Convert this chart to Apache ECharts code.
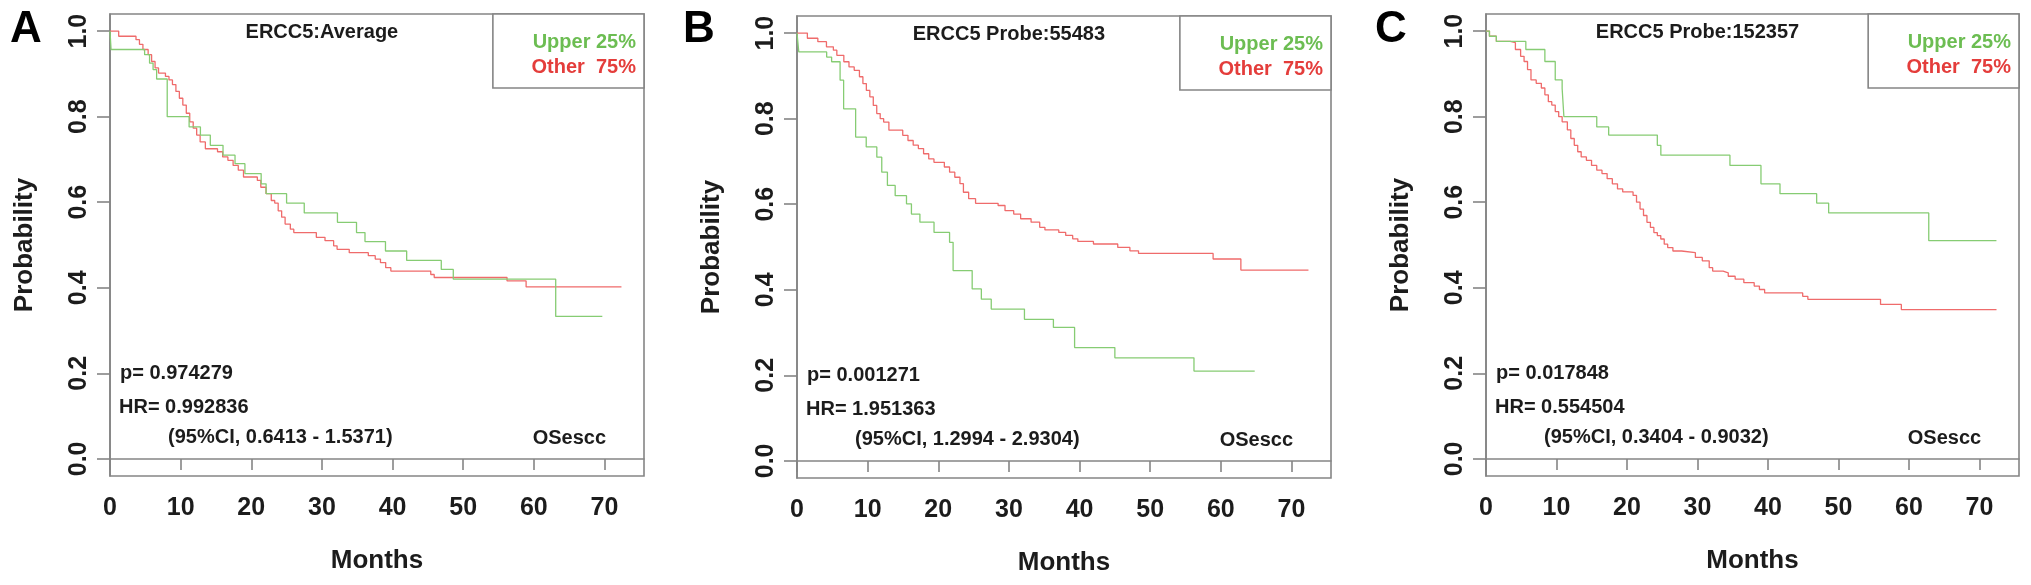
<!DOCTYPE html>
<html>
<head>
<meta charset="utf-8">
<script src="https://cdn.jsdelivr.net/npm/echarts@6/dist/echarts.min.js"></script>
<style>
html,body{margin:0;padding:0;background:#fff;}
#chart{width:2031px;height:585px;}
</style>
</head>
<body>
<div id="chart"></div>
<script>
// ---------- data ----------
const monthTicks = [0, 10, 20, 30, 40, 50, 60, 70];
const probTicks = [0, 0.2, 0.4, 0.6, 0.8, 1.0];
const panelLetters = ['A', 'B', 'C'];
const titles = ['ERCC5:Average', 'ERCC5 Probe:55483', 'ERCC5 Probe:152357'];
const pValues = ['0.974279', '0.001271', '0.017848'];
const hrValues = ['0.992836', '1.951363', '0.554504'];
const ciValues = ['0.6413 - 1.5371', '1.2994 - 2.9304', '0.3404 - 0.9032'];
const groupNames = ['Upper 25%', 'Other  75%'];
const cohortLabel = 'OSescc';

const upperA = [[0,1],[0.15,0.957],[4.9,0.945],[5.6,0.925],[6.1,0.910],[6.6,0.888],[8.1,0.800],[11.2,0.776],[12.8,0.757],[14.2,0.733],[16.0,0.710],[17.7,0.690],[19.1,0.667],[21.4,0.643],[22.1,0.620],[25.0,0.598],[27.5,0.575],[32.2,0.553],[34.9,0.529],[36.1,0.508],[39.0,0.486],[42.0,0.464],[46.9,0.443],[48.6,0.420],[63.1,0.333],[69.7,0.333]];
const otherA = [[0,1],[1.23,0.988],[3.68,0.980],[4.17,0.969],[4.66,0.957],[5.40,0.945],[5.89,0.929],[6.38,0.914],[6.87,0.902],[7.85,0.894],[8.35,0.886],[8.84,0.875],[9.33,0.859],[9.82,0.843],[10.31,0.827],[10.80,0.808],[11.29,0.788],[11.78,0.773],[12.27,0.757],[12.76,0.741],[13.50,0.725],[15.22,0.718],[15.95,0.706],[16.69,0.698],[17.43,0.686],[18.16,0.675],[18.90,0.659],[20.86,0.651],[21.35,0.635],[22.09,0.620],[22.83,0.604],[23.32,0.598],[23.81,0.580],[24.30,0.565],[24.79,0.549],[25.53,0.537],[26.02,0.529],[29.21,0.518],[30.44,0.510],[31.66,0.498],[32.15,0.490],[33.87,0.482],[36.57,0.475],[37.55,0.467],[38.29,0.459],[39.03,0.447],[39.76,0.439],[45.41,0.431],[45.90,0.424],[56.21,0.416],[58.91,0.402],[72.41,0.402]];

const upperB = [[0,1],[0.25,0.956],[4.2,0.944],[4.9,0.933],[6.1,0.890],[6.6,0.823],[8.3,0.757],[9.8,0.734],[11.3,0.710],[12.0,0.675],[12.8,0.644],[13.9,0.620],[15.5,0.601],[16.2,0.577],[17.4,0.558],[19.4,0.534],[21.6,0.511],[22.1,0.445],[24.8,0.402],[26.1,0.378],[27.5,0.355],[32.2,0.331],[36.3,0.312],[39.3,0.265],[45.0,0.241],[56.2,0.210],[64.8,0.210]];
const otherB = [[0,1],[1.47,0.988],[2.95,0.980],[4.17,0.968],[5.15,0.960],[5.64,0.948],[6.63,0.933],[7.36,0.921],[8.10,0.913],[8.84,0.898],[9.33,0.882],[9.82,0.866],[10.31,0.851],[10.80,0.831],[11.29,0.812],[11.78,0.800],[12.27,0.792],[13.01,0.773],[14.97,0.761],[15.71,0.749],[16.45,0.738],[17.18,0.730],[17.92,0.718],[18.65,0.706],[19.39,0.698],[20.86,0.687],[21.60,0.675],[22.34,0.663],[23.07,0.648],[23.56,0.628],[24.30,0.613],[25.28,0.602],[28.47,0.597],[29.45,0.585],[30.68,0.577],[31.66,0.566],[33.14,0.558],[34.36,0.546],[35.10,0.540],[37.06,0.534],[38.04,0.527],[39.03,0.519],[39.76,0.513],[41.97,0.507],[45.41,0.499],[47.13,0.491],[48.35,0.485],[58.91,0.472],[62.84,0.446],[72.41,0.446]];

const upperC = [[0,1],[0.49,0.988],[1.47,0.976],[5.65,0.957],[8.35,0.929],[9.82,0.886],[10.80,0.866],[11.05,0.800],[15.71,0.776],[17.4,0.757],[24.3,0.733],[24.8,0.710],[34.6,0.686],[39.0,0.643],[41.7,0.620],[46.9,0.598],[48.6,0.575],[62.8,0.510],[72.4,0.510]];
const otherC = [[0,1],[0.49,0.988],[1.47,0.976],[3.44,0.973],[4.17,0.957],[4.91,0.941],[5.40,0.929],[5.89,0.910],[6.38,0.886],[7.12,0.878],[7.85,0.867],[8.35,0.851],[8.84,0.835],[9.33,0.827],[9.82,0.812],[10.31,0.800],[10.80,0.788],[11.54,0.769],[12.03,0.749],[12.52,0.733],[13.01,0.718],[13.50,0.706],[14.24,0.698],[14.97,0.686],[15.71,0.675],[16.45,0.667],[17.18,0.655],[17.92,0.643],[18.65,0.631],[19.39,0.624],[20.86,0.616],[21.35,0.600],[21.85,0.584],[22.34,0.569],[22.83,0.553],[23.32,0.541],[23.81,0.529],[24.30,0.522],[24.79,0.514],[25.28,0.502],[25.77,0.494],[26.51,0.486],[27.74,0.482],[29.70,0.471],[30.68,0.463],[31.66,0.447],[32.15,0.439],[33.63,0.435],[34.36,0.427],[35.34,0.420],[36.57,0.412],[38.04,0.404],[38.78,0.396],[39.52,0.388],[44.92,0.380],[45.65,0.373],[55.96,0.361],[58.91,0.349],[72.41,0.349]];

const upperSeries = [upperA, upperB, upperC];
const otherSeries = [otherA, otherB, otherC];

// ---------- layout / style ----------
const FONT = "'Liberation Sans', Arial, Helvetica, sans-serif";
const TXT = '#1c1c1c';
const AXC = '#858585';
const GREEN_LINE = '#86cc73', RED_LINE = '#ef6b6b';
const GREEN_TXT = '#6cbd52', RED_TXT = '#e43d3b';
const X_MAX = 75.6, Y_MIN = -0.04, Y_MAX = 1.04;
const geo = [
  {left: 110, top: 14, width: 534, height: 462, letterX: 26},
  {left: 797, top: 16, width: 534, height: 462, letterX: 699},
  {left: 1486, top: 14, width: 533, height: 462, letterX: 1391}
];
const px = (g, m) => g.left + m / X_MAX * g.width;
const py = (g, v) => g.top + (Y_MAX - v) / (Y_MAX - Y_MIN) * g.height;

const grids = [], xAxes = [], yAxes = [], series = [], graphics = [];
geo.forEach((g, i) => {
  grids.push({left: g.left, top: g.top, width: g.width, height: g.height,
    show: true, borderColor: AXC, borderWidth: 1.6, backgroundColor: 'transparent'});
  xAxes.push({type: 'value', gridIndex: i, min: 0, max: X_MAX,
    axisLine: {show: true, lineStyle: {color: AXC, width: 1.6}},
    axisTick: {show: true, length: 11, inside: false, customValues: monthTicks, lineStyle: {color: AXC, width: 1.6}},
    axisLabel: {customValues: monthTicks, fontSize: 25, fontWeight: 'bold', fontFamily: FONT, color: TXT, margin: 20},
    splitLine: {show: false},
    name: 'Months', nameLocation: 'middle', nameGap: 72,
    nameTextStyle: {fontSize: 26, fontWeight: 'bold', fontFamily: FONT, color: TXT}});
  yAxes.push({type: 'value', gridIndex: i, min: Y_MIN, max: Y_MAX,
    axisLine: {show: true, lineStyle: {color: AXC, width: 1.6}},
    axisTick: {show: true, length: 13, inside: false, customValues: probTicks, lineStyle: {color: AXC, width: 1.6}},
    axisLabel: {customValues: probTicks, rotate: 90, fontSize: 25, fontWeight: 'bold', fontFamily: FONT, color: TXT, margin: 18,
      formatter: v => v.toFixed(1)},
    splitLine: {show: false},
    name: 'Probability', nameLocation: 'middle', nameGap: 72, nameRotate: 90,
    nameTextStyle: {fontSize: 26, fontWeight: 'bold', fontFamily: FONT, color: TXT}});
  series.push({type: 'line', xAxisIndex: i, yAxisIndex: i, step: 'end', data: otherSeries[i],
    showSymbol: false, symbol: 'none', lineStyle: {color: RED_LINE, width: 1.3}, z: 2});
  series.push({type: 'line', xAxisIndex: i, yAxisIndex: i, step: 'end', data: upperSeries[i],
    showSymbol: false, symbol: 'none', lineStyle: {color: GREEN_LINE, width: 1.3}, z: 3});

  const txt = (text, x, y, size, color, align) => ({type: 'text', z: 10,
    style: {text: text, x: x, y: y, fontSize: size, fontWeight: 'bold', fontFamily: FONT, fill: color,
      align: align || 'left', verticalAlign: 'middle'}});
  // panel letter
  graphics.push(txt(panelLetters[i], g.letterX, 30, 44, '#000', 'center'));
  // title
  graphics.push(txt(titles[i], px(g, 30), py(g, 1.0) + 1, 20, TXT, 'center'));
  // legend box
  const lx = g.left + 0.717 * g.width;
  graphics.push({type: 'rect', z: 9, shape: {x: lx, y: g.top, width: g.left + g.width - lx, height: 74},
    style: {fill: '#fff', stroke: AXC, lineWidth: 1.6}});
  graphics.push(txt(groupNames[0], g.left + g.width - 8, g.top + 28, 20, GREEN_TXT, 'right'));
  graphics.push(txt(groupNames[1], g.left + g.width - 8, g.top + 53, 20, RED_TXT, 'right'));
  // stats
  graphics.push(txt('p= ' + pValues[i], g.left + 10, py(g, 0.2), 20, TXT));
  graphics.push(txt('HR= ' + hrValues[i], g.left + 9, py(g, 0.12), 20, TXT));
  graphics.push(txt('(95%CI, ' + ciValues[i] + ')', g.left + 58, py(g, 0.05), 20, TXT));
  graphics.push(txt(cohortLabel, g.left + g.width * 0.929, py(g, 0.047), 20, TXT, 'right'));
});

const chart = echarts.init(document.getElementById('chart'), null, {renderer: 'canvas'});
chart.setOption({
  animation: false,
  backgroundColor: '#fff',
  grid: grids, xAxis: xAxes, yAxis: yAxes, series: series, graphic: graphics
});
</script>
</body>
</html>
